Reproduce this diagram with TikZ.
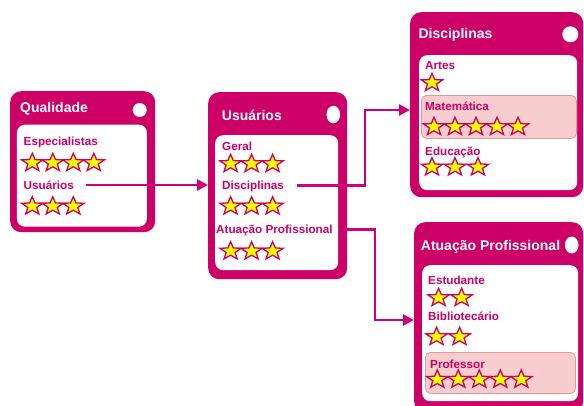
\documentclass[tikz,border=0pt]{standalone}
\usepackage{fontspec}
\setmainfont{Liberation Sans}
\usetikzlibrary{arrows.meta}
\definecolor{mag}{HTML}{CC0066}
\definecolor{lnk}{HTML}{D0007A}
\definecolor{hlfill}{HTML}{F7CDCD}
\definecolor{hldraw}{HTML}{DE9A9A}
\definecolor{staryel}{HTML}{FFFF00}
\tikzset{
  outerbox/.style={fill=mag, draw=none, rounded corners=11pt, anchor=north west, inner sep=0pt},
  innerbox/.style={fill=white, draw=none, rounded corners=8pt, anchor=north west, inner sep=0pt},
  hlbox/.style={fill=hlfill, draw=hldraw, line width=0.8pt, rounded corners=5pt, anchor=north west, inner sep=0pt},
  titletext/.style={text=white, font=\fontsize{14}{16}\selectfont\bfseries, anchor=west, inner sep=0pt, text height=10pt, text depth=0pt},
  itemtext/.style={text=mag, font=\fontsize{11.7}{14}\selectfont\bfseries, anchor=west, inner sep=0pt, text height=8.4pt, text depth=0pt},
  starsty/.style={fill=staryel, draw=mag, line width=1.3pt, line join=miter},
  conn/.style={draw=lnk, line width=2.6pt, -{Triangle[length=11pt,width=11pt]}},
}
\newcommand{\starrow}[4]{%
  \foreach \k in {1,...,#3}{%
    \pgfmathsetmacro{\cx}{#1+(\k-1)*#4}%
    \begin{scope}[shift={(\cx,#2)},yscale=-0.85]
      \draw[starsty] (90:11.2) -- (126:4.7) -- (162:11.2) -- (198:4.7) -- (234:11.2) -- (270:4.7) -- (306:11.2) -- (342:4.7) -- (18:11.2) -- (54:4.7) -- cycle;
    \end{scope}
  }%
}
\begin{document}
\begin{tikzpicture}[x=1pt,y=-1pt]
\useasboundingbox (0,0) rectangle (584,405);
\fill[white] (0,0) rectangle (584,405);

% ---------- Qualidade ----------
\node[outerbox, minimum width=145pt, minimum height=141pt] (qual) at (10,91) {};
\node[titletext] (qualT) at (20,107.5) {Qualidade};
\fill[white] (139.7,110) circle[radius=7];
\node[innerbox, minimum width=130pt, minimum height=102pt] (qualI) at (16.7,124.5) {};
\node[itemtext] (qE) at (23.5,141.7) {Especialistas};
\starrow{32.3}{162.8}{4}{20.5}
\node[itemtext] (qU) at (23.5,185) {Usuários};
\starrow{32.3}{206.2}{3}{20.5}

% ---------- Usuarios ----------
\node[outerbox, minimum width=139pt, minimum height=187pt] (usu) at (208,92) {};
\node[titletext] (usuT) at (221.7,115) {Usuários};
\fill[white] (333.3,114.5) ellipse[x radius=6.8, y radius=8.8];
\node[innerbox, minimum width=123pt, minimum height=135pt] (usuI) at (215,135) {};
\node[itemtext] (uG) at (222,146) {Geral};
\starrow{230.6}{163.8}{3}{21}
\node[itemtext] (uD) at (222,185.7) {Disciplinas};
\starrow{230.6}{206.2}{3}{21}
\node[itemtext] (uA) at (216,229.3) {Atuação Profissional};
\starrow{230.6}{251.2}{3}{21}

% ---------- Disciplinas ----------
\node[outerbox, minimum width=173pt, minimum height=185pt] (disc) at (410,12) {};
\node[titletext] (discT) at (418.3,33.3) {Disciplinas};
\fill[white] (570.3,34.3) circle[radius=8];
\node[innerbox, minimum width=158pt, minimum height=135pt] (discI) at (419,55) {};
\node[itemtext] (dA) at (425,65.7) {Artes};
\starrow{432}{82.8}{1}{21}
\node[hlbox, minimum width=155pt, minimum height=43pt] (dHl) at (421,95) {};
\node[itemtext] (dM) at (425,106.7) {Matemática};
\starrow{434}{126.8}{5}{21}
\node[itemtext] (dE) at (425,151.7) {Educação};
\starrow{432}{167.2}{3}{23}

% ---------- Atuacao Profissional ----------
\node[outerbox, minimum width=169pt, minimum height=190pt] (atu) at (414,222) {};
\node[titletext] (atuT) at (420.7,245) {Atuação Profissional};
\fill[white] (571.7,245) ellipse[x radius=6.8, y radius=8.5];
\node[innerbox, minimum width=156pt, minimum height=136pt] (atuI) at (422,265) {};
\node[itemtext] (aE) at (428,280.7) {Estudante};
\starrow{438.6}{297.8}{2}{23}
\node[itemtext] (aB) at (428,316.7) {Bibliotecário};
\starrow{436.6}{336.8}{2}{23}
\node[hlbox, minimum width=150pt, minimum height=41pt] (aHl) at (425,352) {};
\node[itemtext] (aP) at (430,364) {Professor};
\starrow{437.3}{379.5}{5}{21}

% ---------- connectors ----------
\coordinate (c1) at (365,110);
\coordinate (c2) at (375,320);
\draw[conn] ([xshift=12pt]qU.east) -- (usu.west |- qU.east);
\draw[conn] ([xshift=13pt]uD.east) -| (c1) -- (disc.west |- c1);
\draw[conn] ([xshift=13pt]uA.east) -| (c2) -- (atu.west |- c2);
\end{tikzpicture}
\end{document}
